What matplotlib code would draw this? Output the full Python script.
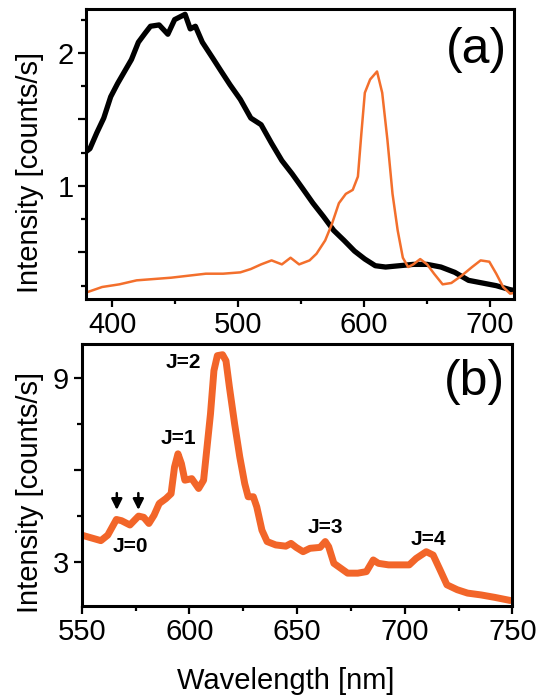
import matplotlib
matplotlib.use("Agg")
import matplotlib.pyplot as plt
from matplotlib.ticker import MultipleLocator, FixedLocator

plt.rcParams['font.family'] = ['Liberation Sans', 'DejaVu Sans']

# panel (a): broad black emission and orange Eu-like emission
wl_black = [376.6, 382.1, 387.6, 393.1, 398.6, 404.1, 409.6, 415.1, 420.6, 426.1,
            430.2, 437.1, 444.0, 449.4, 457.7, 461.8, 465.9, 471.4, 479.7, 486.5,
            493.4, 501.6, 509.9, 518.1, 526.4, 534.6, 542.8, 551.1, 559.3, 567.6,
            575.8, 584.0, 592.3, 600.5, 608.8, 617.0, 628.0, 639.0, 650.0, 661.0,
            672.0, 682.9, 693.9, 704.9, 715.9, 721.4]
int_black = [1.24, 1.28, 1.40, 1.51, 1.67, 1.77, 1.86, 1.95, 2.08, 2.15,
             2.20, 2.21, 2.14, 2.25, 2.29, 2.18, 2.20, 2.08, 1.96, 1.86,
             1.76, 1.65, 1.51, 1.46, 1.32, 1.19, 1.09, 0.98, 0.87, 0.77,
             0.665, 0.59, 0.51, 0.45, 0.40, 0.39, 0.40, 0.41, 0.41, 0.39,
             0.35, 0.29, 0.27, 0.25, 0.22, 0.21]

wl_orange = [376.6, 391.8, 405.5, 419.2, 433.0, 446.7, 460.4, 474.2, 487.9, 501.6,
             509.9, 518.1, 526.4, 534.6, 541.5, 548.3, 556.6, 562.1, 569.0, 574.4,
             579.9, 585.4, 590.9, 595.0, 597.8, 600.5, 604.7, 610.2, 614.3, 618.4,
             622.5, 626.6, 630.7, 634.9, 639.0, 644.5, 650.0, 655.5, 662.3, 669.2,
             677.4, 685.7, 692.5, 699.4, 704.9, 710.4, 715.9, 721.4]
int_orange = [0.19, 0.24, 0.26, 0.29, 0.30, 0.31, 0.325, 0.34, 0.34, 0.35,
              0.375, 0.41, 0.44, 0.41, 0.46, 0.41, 0.44, 0.49, 0.59, 0.715,
              0.87, 0.94, 0.97, 1.07, 1.40, 1.70, 1.80, 1.86, 1.70, 1.35,
              0.94, 0.665, 0.46, 0.39, 0.41, 0.45, 0.41, 0.34, 0.26, 0.27,
              0.325, 0.39, 0.44, 0.43, 0.34, 0.24, 0.19, 0.20]

# panel (b): emission spectrum
wl_b = [550.0, 558.9, 562.1, 566.1, 568.5, 572.4, 576.4, 578.8, 581.2, 583.6,
        586.0, 589.1, 591.5, 593.1, 594.7, 596.3, 597.9, 601.1, 604.3, 606.6,
        608.2, 609.8, 611.4, 613.0, 615.4, 617.0, 618.6, 621.0, 623.4, 625.7,
        627.3, 629.7, 631.3, 633.7, 636.1, 640.1, 644.8, 647.2, 649.6, 652.8,
        656.0, 660.7, 663.1, 664.7, 667.1, 670.3, 673.5, 678.2, 682.2, 685.4,
        687.8, 692.5, 697.3, 702.1, 705.3, 710.0, 713.2, 716.4, 719.6, 724.4,
        729.2, 735.5, 741.9, 749.0]
int_b = [3.89, 3.71, 3.89, 4.40, 4.36, 4.22, 4.51, 4.47, 4.27, 4.54,
         4.92, 5.08, 5.24, 6.11, 6.54, 6.22, 5.68, 5.73, 5.41, 5.68,
         6.76, 7.84, 9.25, 9.74, 9.77, 9.57, 8.71, 7.52, 6.44, 5.57,
         5.14, 5.14, 4.81, 4.05, 3.68, 3.57, 3.53, 3.62, 3.49, 3.35,
         3.46, 3.49, 3.68, 3.51, 2.97, 2.81, 2.65, 2.65, 2.70, 3.08,
         2.97, 2.92, 2.92, 2.92, 3.13, 3.35, 3.24, 2.76, 2.27, 2.11,
         2.00, 1.94, 1.86, 1.76]

j_labels = ['J=0', 'J=1', 'J=2', 'J=3', 'J=4']
j_x = [572.4, 595.1, 597.0, 663.1, 710.9]
j_y = [3.51, 7.04, 9.52, 4.14, 3.75]
arrow_x = [566.3, 576.3]

orange = '#f26529'

fig = plt.figure(figsize=(5.39, 7.0), dpi=100)
ax1 = fig.add_axes([0.1596, 0.5729, 0.794, 0.4143])
ax2 = fig.add_axes([0.1516, 0.1343, 0.799, 0.3743])

ax1.plot(wl_black, int_black, color='black', lw=3.8)
ax1.plot(wl_orange, int_orange, color='#f36f2c', lw=1.8)
ax1.set_xlim(379, 719)
ax1.set_ylim(0.15, 2.33)
ax1.xaxis.set_major_locator(MultipleLocator(100))
ax1.xaxis.set_minor_locator(MultipleLocator(50))
ax1.yaxis.set_major_locator(FixedLocator([0.5, 1, 1.5, 2]))
ax1.set_yticklabels(['', '1', '', '2'])
ax1.yaxis.set_minor_locator(MultipleLocator(0.25))
ax1.set_ylabel('Intensity [counts/s]', fontsize=21)
ax1.yaxis.set_label_coords(-0.098, 0.438)
ax1.text(0.984, 0.859, '(a)', transform=ax1.transAxes, fontsize=36,
         ha='right', va='center')

ax2.plot(wl_b, int_b, color=orange, lw=5, solid_capstyle='round')
ax2.set_xlim(550, 750)
ax2.set_ylim(1.58, 10.12)
ax2.xaxis.set_major_locator(MultipleLocator(50))
ax2.xaxis.set_minor_locator(MultipleLocator(25))
ax2.yaxis.set_major_locator(FixedLocator([3, 6, 9]))
ax2.set_yticklabels(['3', '', '9'])
ax2.yaxis.set_minor_locator(MultipleLocator(1.5))
ax2.set_ylabel('Intensity [counts/s]', fontsize=21)
ax2.yaxis.set_label_coords(-0.0876, 0.433)
ax2.set_xlabel('Wavelength [nm]', fontsize=21)
ax2.xaxis.set_label_coords(0.474, -0.233)
ax2.text(0.983, 0.853, '(b)', transform=ax2.transAxes, fontsize=36,
         ha='right', va='center')

for lab, x, y in zip(j_labels, j_x, j_y):
    ax2.text(x, y, lab, fontsize=15, fontweight='bold', ha='center', va='center')
for x in arrow_x:
    ax2.annotate('', xy=(x, 4.62), xytext=(x, 5.35),
                 arrowprops=dict(arrowstyle='-|>', color='black', lw=1.8,
                                 mutation_scale=16))

for ax in (ax1, ax2):
    for s in ax.spines.values():
        s.set_linewidth(2.2)
    ax.tick_params(which='major', direction='out', length=6, width=1.6,
                   labelsize=21, pad=3)
    ax.tick_params(which='minor', direction='out', length=3.5, width=1.6)

fig.savefig('out.png', dpi=100)
